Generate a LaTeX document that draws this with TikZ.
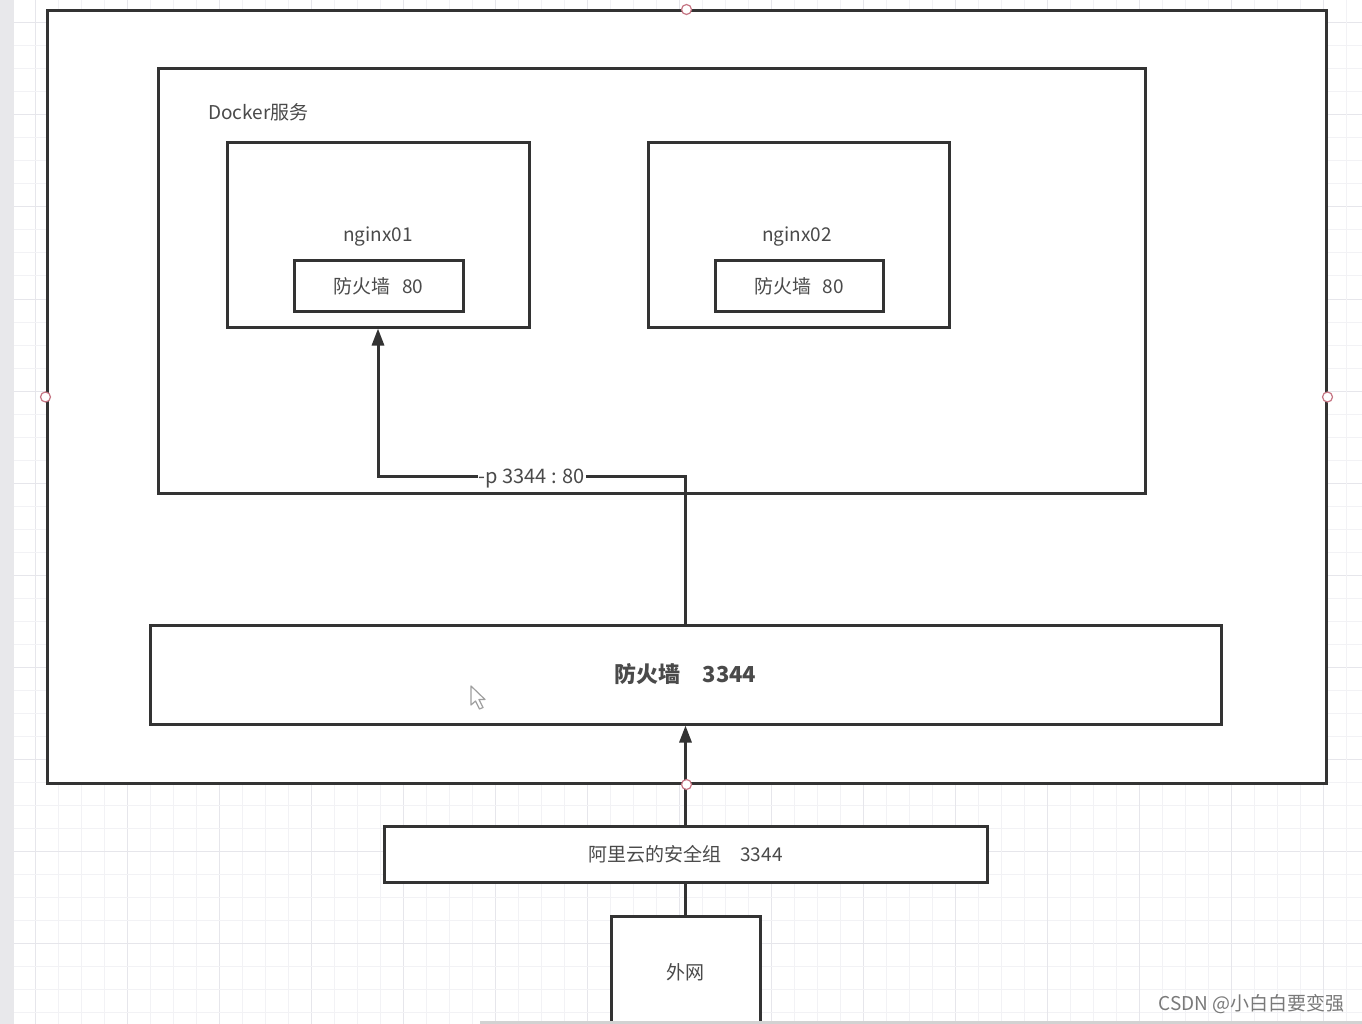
\documentclass[tikz,border=0pt]{standalone}
\usepackage{fontspec}
\setmainfont{Noto Sans CJK SC}
\usepackage{xcolor}
\usetikzlibrary{arrows.meta,calc}
\definecolor{linegrey}{HTML}{333333}
\definecolor{textgrey}{HTML}{4A4A4A}
\definecolor{gridminor}{HTML}{F2F2F5}
\definecolor{gridmajor}{HTML}{E6E6EB}
\definecolor{stripgrey}{HTML}{E8E8EB}
\definecolor{handlered}{HTML}{C67684}
\tikzset{
  box/.style={
    draw=linegrey, fill=white, line width=3pt, inner sep=0pt,
    font=\fontsize{19}{22}\selectfont, text=textgrey,
  },
  lbl/.style  ={font=\fontsize{19}{22}\selectfont, text=textgrey, inner sep=1pt},
  wire/.style ={draw=linegrey, line width=3pt},
  flow/.style ={wire, -{Triangle[length=17pt, width=12pt]}},
  handle/.style={circle, draw=handlered, fill=white, line width=1.2pt,
                 inner sep=0pt, minimum size=10pt},
}

\begin{document}
\begin{tikzpicture}[x=1pt, y=-1pt]
\useasboundingbox (0,0) rectangle (1362,1024);
\clip (0,0) rectangle (1362,1024);

% ------------------------------------------------------------- canvas
\fill[white] (0,0) rectangle (1362,1024);
\foreach \k in {0,...,58} {
  \pgfmathsetmacro{\gx}{35+23*\k}
  \pgfmathsetmacro{\gy}{23+23*\k}
  \pgfmathtruncatemacro{\major}{mod(\k,4)==0 ? 1 : 0}
  \ifnum\major=1
    \draw[gridmajor, line width=1pt] (\gx,0) -- (\gx,1024);
    \draw[gridmajor, line width=1pt] (14,\gy) -- (1362,\gy);
  \else
    \draw[gridminor, line width=1pt] (\gx,0) -- (\gx,1024);
    \draw[gridminor, line width=1pt] (14,\gy) -- (1362,\gy);
  \fi
}
\fill[stripgrey] (0,0) rectangle (14,1024);

% ------------------------------------------------------------- boxes
\node[box, minimum width=1279pt, minimum height=772pt] (host) at (686.5,397) {};
\node[box, minimum width=987pt, minimum height=424pt] (docker) at (651.5,281) {};
\node[lbl, anchor=west] (dockerlbl) at (207,112) {Docker服务};

\node[box, minimum width=302pt, minimum height=184pt] (ngx1) at (378,235) {};
\node[lbl] (ngx1lbl) at (378,237) {nginx01};
\node[box, minimum width=169pt, minimum height=50pt] (fw1) at (378.5,286)
  {防火墙\hspace{.6em}80};
\node[box, minimum width=301pt, minimum height=184pt] (ngx2) at (798.5,235) {};
\node[lbl] (ngx2lbl) at (797,237) {nginx02};
\node[box, minimum width=168pt, minimum height=50pt] (fw2) at (799,286)
  {防火墙\hspace{.6em}80};

\node[box, minimum width=1071pt, minimum height=99pt,
      font=\fontsize{22}{26}\selectfont\bfseries] (hostfw) at (685.5,674.5)
  {防火墙\hspace{1em}3344};

\node[box, minimum width=603pt, minimum height=56pt] (aliyun) at (685.5,854)
  {阿里云的安全组\hspace{1em}3344};
\node[box, minimum width=149pt, minimum height=112pt] (wan) at (685.5,972) {外网};
\draw[gray!35, line width=3pt] (480,1022) -- (1362,1022);

% ------------------------------------------------------------- connectors
\coordinate (bend) at (hostfw.north |- 0,476);
\draw[flow] (hostfw.north) -- (bend) -| node[lbl, pos=0.25, fill=white,
  inner xsep=1pt, yshift=-3pt, font=\fontsize{20}{24}\selectfont]
  {-p 3344 : 80} (ngx1.south);
\draw[flow] (aliyun.north) -- (hostfw.south);
\draw[wire] (wan.north) -- (aliyun.south);

% ------------------------------------------------------------- editor marks
\foreach \a in {north,south,east,west}
  \node[handle] (h\a) at (host.\a) {};
\draw[gray!75, fill=white, line width=1.2pt, line join=round]
  (471,686) -- (471,705) -- (475.5,701) -- (479.5,709) -- (483,707.5)
  -- (479,699.5) -- (485,699.5) -- cycle;

\node[lbl, anchor=east, text=gray!95!black] (mark) at (1346,1004)
  {CSDN @小白白要变强};

\end{tikzpicture}
\end{document}
